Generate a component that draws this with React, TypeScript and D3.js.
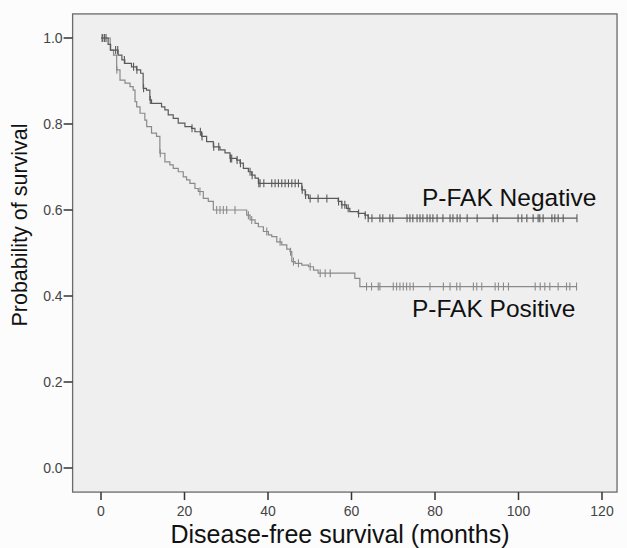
import React from "react";
import * as d3 from "d3";

// ---------- data ----------
// P-FAK Negative: step times (months) and survival after each step
const negTimes = [0, 1.7, 2.3, 4.1, 5.0, 5.7, 7.3, 8.5, 9.5, 10.1, 10.9, 11.7, 12.1, 14.5, 15.3, 16.1, 17.3, 18.5, 20.1, 21.7, 22.5, 24.1, 25.3, 26.9, 28.5, 29.7, 30.9, 32.5, 33.3, 34.1, 35.3, 36.1, 36.9, 37.7, 48.1, 48.9, 49.7, 56.8, 57.6, 58.8, 59.6, 61.6, 63.2, 64.0];
const negSurv = [1.0, 0.985, 0.972, 0.96, 0.949, 0.941, 0.933, 0.926, 0.918, 0.883, 0.879, 0.856, 0.848, 0.84, 0.833, 0.821, 0.813, 0.802, 0.794, 0.79, 0.782, 0.771, 0.759, 0.747, 0.74, 0.733, 0.72, 0.716, 0.709, 0.697, 0.689, 0.681, 0.674, 0.662, 0.647, 0.635, 0.627, 0.62, 0.612, 0.604, 0.596, 0.592, 0.588, 0.581];
const negCensored = [0.3, 0.8, 1.2, 3.5, 4.0, 5.6, 7.8, 8.6, 10.2, 11.8, 21.8, 23.8, 24.2, 27.0, 28.2, 31.0, 31.3, 32.6, 33.4, 35.7, 36.2, 37.8, 38.1, 39.0, 40.9, 41.7, 42.5, 43.3, 44.1, 44.9, 45.7, 46.5, 47.3, 48.2, 49.0, 50.1, 52.0, 54.1, 56.9, 57.7, 58.4, 59.2, 61.7, 63.3, 64.0, 64.9, 66.8, 67.5, 69.2, 69.9, 73.3, 74.0, 74.7, 75.7, 76.4, 77.1, 78.1, 78.8, 79.5, 80.5, 81.9, 83.6, 84.3, 85.3, 86.0, 87.7, 90.1, 93.9, 94.9, 99.9, 100.8, 102.0, 103.5, 104.7, 105.1, 105.9, 108.0, 108.7, 109.5, 110.7, 114.0];
const negEnd = 114.0;

// P-FAK Positive
const posTimes = [0, 2.2, 3.0, 3.75, 4.55, 5.75, 6.95, 7.7, 8.15, 8.55, 9.35, 10.5, 10.95, 12.1, 13.3, 14.1, 15.3, 16.5, 17.3, 18.5, 19.7, 20.5, 21.3, 22.5, 23.3, 24.5, 25.7, 26.9, 34.9, 35.7, 36.9, 37.7, 38.9, 40.1, 40.9, 42.1, 43.3, 44.5, 45.3, 45.7, 46.5, 48.1, 49.7, 50.9, 52.0, 60.8, 62.0];
const posSurv = [1.0, 0.972, 0.96, 0.926, 0.902, 0.895, 0.887, 0.879, 0.852, 0.84, 0.825, 0.809, 0.794, 0.779, 0.771, 0.732, 0.712, 0.705, 0.697, 0.689, 0.677, 0.67, 0.662, 0.65, 0.643, 0.627, 0.62, 0.6, 0.588, 0.577, 0.569, 0.561, 0.55, 0.542, 0.538, 0.526, 0.519, 0.509, 0.503, 0.48, 0.476, 0.472, 0.468, 0.46, 0.453, 0.441, 0.422];
const posCensored = [0.3, 0.8, 3.8, 14.2, 23.7, 27.7, 28.5, 29.3, 30.1, 32.1, 35.3, 36.1, 39.7, 42.9, 45.4, 46.1, 47.3, 50.1, 52.5, 53.7, 54.9, 63.6, 64.8, 66.4, 66.8, 70.0, 70.8, 71.6, 72.4, 73.2, 74.0, 74.8, 78.8, 82.0, 83.6, 85.2, 86.0, 89.2, 90.0, 91.2, 94.4, 95.2, 96.4, 97.6, 104.0, 105.2, 106.3, 107.5, 109.5, 111.5, 112.3, 113.9];
const posEnd = 113.9;

const xTicks = [0, 20, 40, 60, 80, 100, 120];
const yTicks = [0.0, 0.2, 0.4, 0.6, 0.8, 1.0];
const groupNames = ["P-FAK Negative", "P-FAK Positive"];
const xTitle = "Disease-free survival (months)";
const yTitle = "Probability of survival";

// ---------- layout ----------
const W = 627;
const H = 548;
const FONT = "'Liberation Sans', Arial, sans-serif";

const x = d3.scaleLinear().domain([0, 120]).range([101, 602]);
const y = d3.scaleLinear().domain([0, 1]).range([468, 38]);
const frame = { left: x(-6.8), right: x(123.6), top: y(1.056), bottom: y(-0.056) };

function stepPath(times: number[], surv: number[], end: number): string {
  const pts: [number, number][] = [];
  times.forEach((t, i) => {
    if (i > 0) pts.push([t, surv[i - 1]]);
    pts.push([t, surv[i]]);
  });
  pts.push([end, surv[surv.length - 1]]);
  return d3.line<[number, number]>().x((d) => x(d[0])).y((d) => y(d[1]))(pts) || "";
}

function survAt(times: number[], surv: number[], t: number): number {
  let s = surv[0];
  for (let i = 0; i < times.length; i++) if (times[i] <= t) s = surv[i];
  return s;
}

function Curve({ times, surv, censored, end, color }: { times: number[]; surv: number[]; censored: number[]; end: number; color: string }) {
  return (
    <g>
      <path d={stepPath(times, surv, end)} fill="none" stroke={color} strokeWidth={1.2} />
      {censored.map((t, i) => {
        const cx = x(t);
        const cy = y(survAt(times, surv, t));
        return <line key={i} x1={cx} x2={cx} y1={cy - 4} y2={cy + 4} stroke={color} strokeWidth={1.1} />;
      })}
    </g>
  );
}

export default function App() {
  return (
    <svg width={W} height={H} style={{ position: "absolute", left: 0, top: 0, background: "#fff" }} fontFamily={FONT}>
      <rect x={0} y={0} width={W} height={H} fill="#fcfcfc" />
      <rect x={frame.left} y={frame.top} width={frame.right - frame.left} height={frame.bottom - frame.top} fill="#efefef" stroke="#6a6a6a" strokeWidth={1.3} />

      {/* y axis ticks */}
      {yTicks.map((v) => (
        <g key={v}>
          <line x1={frame.left - 9} x2={frame.left} y1={y(v)} y2={y(v)} stroke="#333" strokeWidth={1.5} />
          <text x={frame.left - 10} y={y(v)} dy="0.35em" textAnchor="end" fontSize={14} fill="#444">{v.toFixed(1)}</text>
        </g>
      ))}
      {/* x axis ticks */}
      {xTicks.map((v) => (
        <g key={v}>
          <line x1={x(v)} x2={x(v)} y1={frame.bottom} y2={frame.bottom + 8} stroke="#333" strokeWidth={1.5} />
          <text x={x(v)} y={frame.bottom + 24} textAnchor="middle" fontSize={14} fill="#444">{v}</text>
        </g>
      ))}

      <Curve times={posTimes} surv={posSurv} censored={posCensored} end={posEnd} color="#8a8a8a" />
      <Curve times={negTimes} surv={negSurv} censored={negCensored} end={negEnd} color="#5a5a5a" />

      <text x={422} y={206} fontSize={24.5} fill="#111">{groupNames[0]}</text>
      <text x={412} y={317} fontSize={24.5} fill="#111">{groupNames[1]}</text>

      <text x={340} y={543} textAnchor="middle" fontSize={25} fill="#111">{xTitle}</text>
      <text transform={`translate(27,225) rotate(-90)`} textAnchor="middle" fontSize={21.5} fill="#111">{yTitle}</text>
    </svg>
  );
}
